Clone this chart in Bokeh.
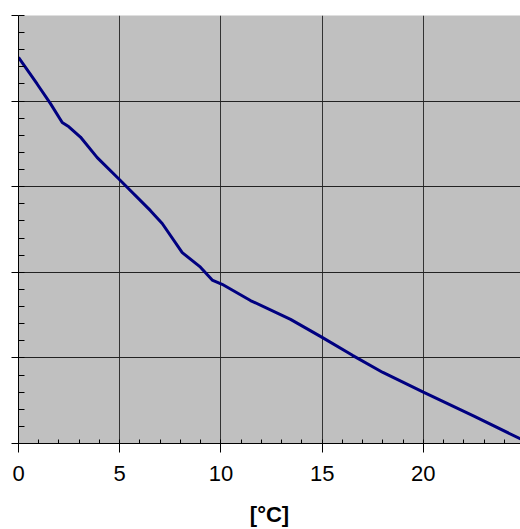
from bokeh.plotting import figure
from bokeh.models import Range1d, SingleIntervalTicker, Label, CustomJSTickFormatter
from bokeh.embed import file_html
from bokeh.resources import INLINE

# Data
temps = [0, 0.92, 1.58, 2.16, 2.49, 3.06, 3.89, 4.96, 6.52, 7.10, 8.09, 8.99,
         9.57, 10.06, 11.46, 13.44, 15.0, 16.5, 18.0, 20.0, 22.5, 25.0]
values = [4.51, 4.20, 3.97, 3.75, 3.70, 3.58, 3.34, 3.09, 2.72, 2.57, 2.23, 2.06,
          1.91, 1.86, 1.67, 1.45, 1.24, 1.03, 0.83, 0.60, 0.32, 0.03]
x_label = "[°C]"
cut_tick_label = "25"

FONT = "Liberation Sans"

p = figure(frame_width=502, frame_height=428,
           x_range=Range1d(0, 24.8), y_range=Range1d(0, 5),
           output_backend="svg", toolbar_location=None,
           min_border_left=18, min_border_top=15, min_border_right=0,
           min_border_bottom=10)

p.background_fill_color = "#C0C0C0"
p.border_fill_color = "white"
p.outline_line_color = None

p.line(temps, values, line_color="#000080", line_width=3)

# x axis
xa = p.xaxis[0]
xa.ticker = SingleIntervalTicker(interval=5, num_minor_ticks=5)
xa.axis_line_color = "black"
xa.major_tick_line_color = "black"
xa.minor_tick_line_color = "black"
xa.major_tick_out = 9
xa.major_tick_in = 0
xa.minor_tick_in = 4
xa.minor_tick_out = 0
xa.major_label_text_font = FONT
xa.major_label_text_font_size = "22px"
xa.major_label_text_color = "black"
xa.major_label_standoff = 13
xa.axis_label = x_label
xa.axis_label_text_font = FONT
xa.axis_label_text_font_size = "22px"
xa.axis_label_text_font_style = "bold"
xa.axis_label_text_color = "black"
xa.axis_label_standoff = 18

# y axis (labels cut off in the reference)
ya = p.yaxis[0]
ya.ticker = SingleIntervalTicker(interval=1, num_minor_ticks=5)
ya.formatter = CustomJSTickFormatter(code="return ''")
ya.axis_line_color = "black"
ya.major_tick_line_color = "black"
ya.minor_tick_line_color = "black"
ya.major_tick_out = 7
ya.major_tick_in = 0
ya.minor_tick_in = 6
ya.minor_tick_out = 0
ya.major_label_standoff = 0

p.xgrid.ticker = xa.ticker
p.ygrid.ticker = ya.ticker
p.xgrid.grid_line_color = "#333333"
p.ygrid.grid_line_color = "#222222"
p.xgrid.grid_line_width = 1
p.ygrid.grid_line_width = 1

# partially visible tick label at the right edge
p.add_layout(Label(x=25, y=-0.27, text=cut_tick_label, text_align="center",
                   text_baseline="top", text_font=FONT, text_font_size="22px",
                   text_color="black"))

open("out.html", "w").write(file_html(p, INLINE))
